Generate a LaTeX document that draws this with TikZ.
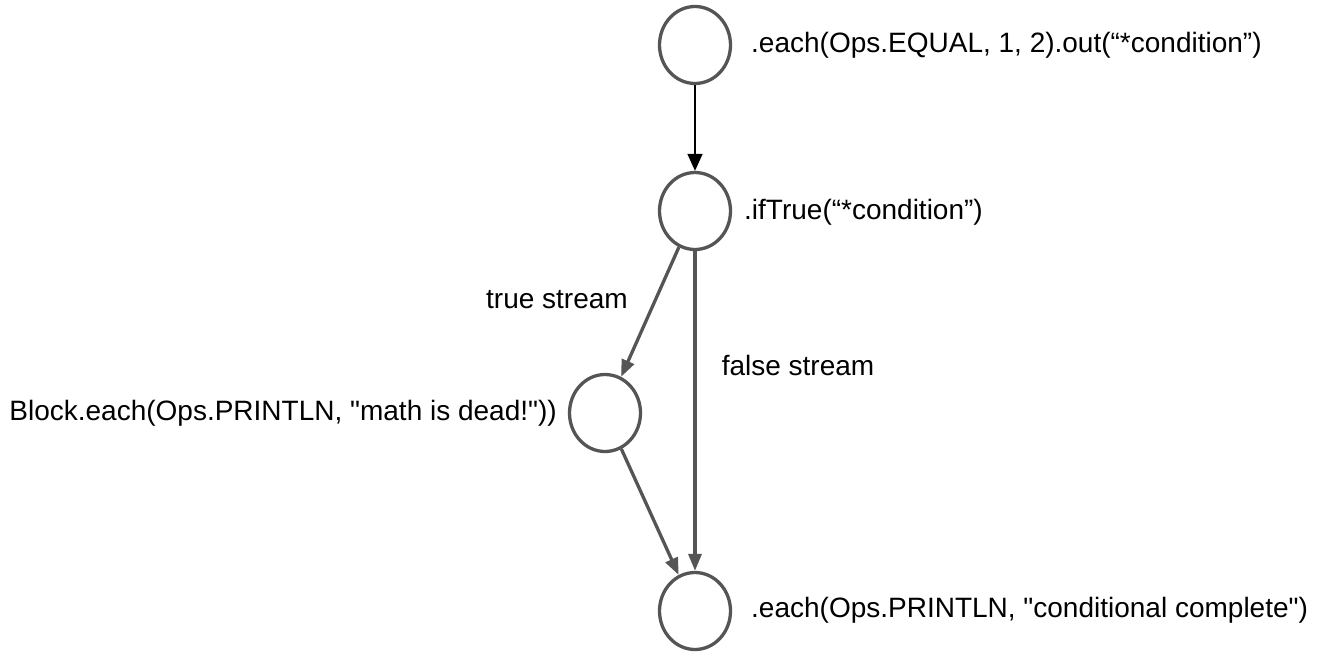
\documentclass[tikz,border=0pt]{standalone}
\usepackage{fontspec}
\setmainfont{Liberation Sans}
\usepackage{xcolor}
\definecolor{flowgray}{RGB}{85,85,85}
\usetikzlibrary{arrows.meta, positioning, shapes.geometric}

\begin{document}
\begin{tikzpicture}[x=1pt, y=-1pt,
  opnode/.style={ellipse, draw=flowgray, line width=3.3pt, minimum width=71pt,
                 minimum height=77pt, inner sep=0pt},
  oplabel/.style={font=\fontsize{28}{32}\selectfont, inner sep=0pt},
  flow/.style={draw=flowgray, line width=3.3pt, -{Triangle[length=17pt, width=13pt]}}]

\useasboundingbox (0,0) rectangle (1322,658);

% --- the four operation nodes ---
\node[opnode] (equal) at (695,45) {};
\node[opnode] (iftrue) at (695,211) {};
\node[opnode] (println) at (605,413) {};
\node[opnode] (complete) at (695,611) {};

% --- what each node does ---
\node[oplabel, anchor=west] (equal-label) at (751,45)
      {.each(Ops.EQUAL, 1, 2).out(“*condition”)};
\node[oplabel, anchor=west] (iftrue-label) at (744,212)
      {.ifTrue(“*condition”)};
\node[oplabel, anchor=east] (println-label) at (557,413)
      {Block.each(Ops.PRINTLN, \textquotedbl math is dead!\textquotedbl))};
\node[oplabel, anchor=west] (complete-label) at (751,610)
      {.each(Ops.PRINTLN, \textquotedbl conditional complete\textquotedbl)};

% --- streams ---
\draw[-{Triangle[length=17pt, width=15pt]}, line width=1.5pt] (equal) -- (iftrue);
\draw[flow] (iftrue) -- (println);
\draw[flow] (iftrue) -- (complete);
\draw[flow] (println) -- (complete);

\node[oplabel] (true-label) at (557,300) {true stream};
\node[oplabel] (false-label) at (798,365) {false stream};

\end{tikzpicture}
\end{document}
